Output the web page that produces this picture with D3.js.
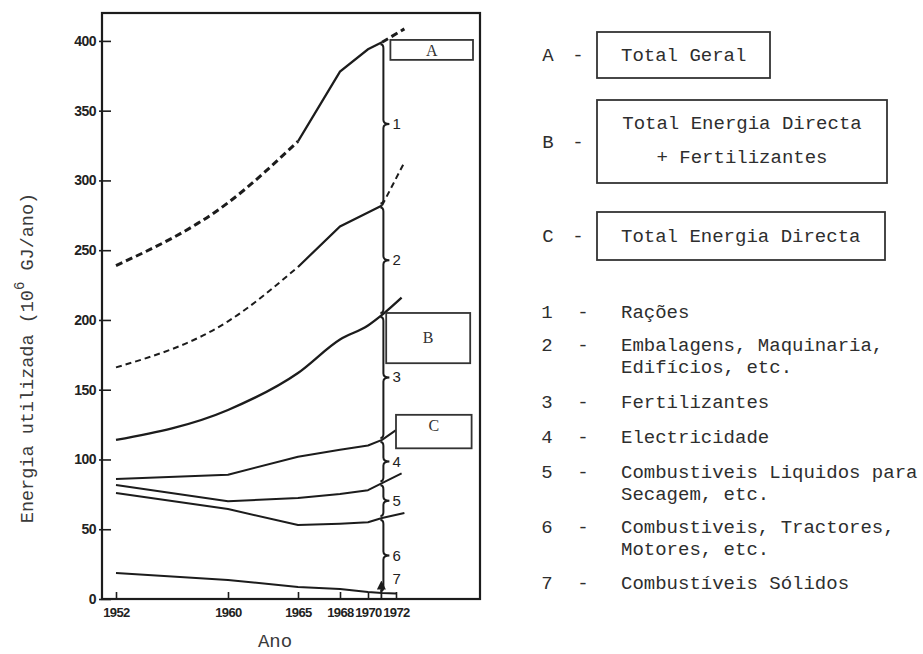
<!DOCTYPE html>
<html>
<head>
<meta charset="utf-8">
<script src="https://cdn.jsdelivr.net/npm/d3@7"></script>
<style>
  body { margin: 0; background: #fff; }
  svg { display: block; }
</style>
</head>
<body>
<svg width="923" height="654"></svg>
<script>
// years where the curves are read, and the tick labels
const years = [1952, 1960, 1965, 1968, 1970, 1971];
const xTicks = [1952, 1960, 1965, 1968, 1970, 1972];
const yTicks = [0, 50, 100, 150, 200, 250, 300, 350, 400];

// upper edge of each band (10^6 GJ/ano), from top to bottom
const totalGeral = [239, 284, 328, 378, 394, 399];
const semRacoes = [166, 199, 238, 267, 277, 282];
const directaFert = [114, 135.5, 162, 186, 196, 203.6];
const directa = [86, 89, 102, 107, 110, 114];
const semElectr = [81.7, 70, 72.4, 75.3, 78, 83];
const semSecagem = [76, 64.5, 53, 54, 55, 58];
const solidos = [18.6, 13.6, 8.6, 7.2, 5, 4.3];

// short extension of each curve past the bracket
const extYears = [1972.6, 1972.6, 1972.4, 1972, 1972.4, 1972.6, 1972];
const extValues = [408.6, 313, 216, 121, 90, 61.6, 4];

// boxes A, B, C inside the plot (data units)
const boxLabels = ["A", "B", "C"];
const boxYears = [[1971.6, 1977.5], [1971.3, 1977.3], [1972, 1977.4]];
const boxValues = [[400.7, 386.4], [205, 169], [132, 108]];

const bandLabels = ["1", "2", "3", "4", "5", "6", "7"];

const legendBoxes = [
    { key: "A", lines: ["Total Geral"] },
    { key: "B", lines: ["Total Energia Directa", "+ Fertilizantes"] },
    { key: "C", lines: ["Total Energia Directa"] }
];
const legendItems = [
    ["1", "Rações"],
    ["2", "Embalagens, Maquinaria,", "Edifícios, etc."],
    ["3", "Fertilizantes"],
    ["4", "Electricidade"],
    ["5", "Combustiveis Liquidos para", "Secagem, etc."],
    ["6", "Combustiveis, Tractores,", "Motores, etc."],
    ["7", "Combustíveis Sólidos"]
];

const series = [totalGeral, semRacoes, directaFert, directa, semElectr, semSecagem, solidos];

const svg = d3.select("svg");
const ink = "#1c1c1c";
const mono = "'Liberation Mono', 'Courier New', monospace";
const sans = "'Liberation Sans', Arial, sans-serif";

const x = d3.scaleLinear().domain([1951, 1978]).range([102, 480]);
const y = d3.scaleLinear().domain([0, 420]).range([599, 13]);

// frame
svg.append("rect")
    .attr("x", x(1951)).attr("y", y(420))
    .attr("width", x(1978) - x(1951)).attr("height", y(0) - y(420))
    .attr("fill", "none").attr("stroke", ink).attr("stroke-width", 2.2);

// axes
const yAxis = svg.append("g")
    .attr("transform", "translate(" + x(1951) + ",0)")
    .call(d3.axisLeft(y).tickValues(yTicks).tickSizeInner(-9).tickSizeOuter(0).tickPadding(6));
yAxis.select(".domain").remove();
yAxis.selectAll(".tick line").attr("x1", -3).attr("stroke", ink).attr("stroke-width", 1.6);
yAxis.selectAll("text")
    .attr("font-family", sans).attr("font-weight", "bold")
    .attr("font-size", 14).attr("letter-spacing", -0.5).attr("fill", "#222");

const xAxis = svg.append("g")
    .attr("transform", "translate(0," + y(0) + ")")
    .call(d3.axisBottom(x).tickValues(xTicks).tickFormat(d3.format("d"))
        .tickSizeInner(-7).tickSizeOuter(0).tickPadding(9));
xAxis.select(".domain").remove();
xAxis.selectAll(".tick line").attr("stroke", ink).attr("stroke-width", 1.6);
xAxis.selectAll("text")
    .attr("font-family", sans).attr("font-weight", "bold")
    .attr("font-size", 13).attr("letter-spacing", -0.6).attr("fill", "#222");

// axis titles
svg.append("text")
    .attr("x", 275).attr("y", 647)
    .attr("text-anchor", "middle")
    .attr("font-family", mono).attr("font-size", 19)
    .attr("fill", "#3a3a3a")
    .text("Ano");

const yTitle = svg.append("text")
    .attr("transform", "translate(28,358) rotate(-90)")
    .attr("text-anchor", "middle").attr("dominant-baseline", "middle")
    .attr("font-family", mono).attr("font-size", 18.5)
    .attr("fill", "#3a3a3a");
yTitle.append("tspan").text("Energia utilizada (10");
yTitle.append("tspan").attr("dy", -8).attr("font-size", 14).text("6");
yTitle.append("tspan").attr("dy", 8).text(" GJ/ano)");

// curves
const smooth = d3.line()
    .x(d => x(d[0]))
    .y(d => y(d[1]))
    .curve(d3.curveMonotoneX);
const straight = d3.line()
    .x(d => x(d[0]))
    .y(d => y(d[1]));

series.forEach((vals, i) => {
    const pts = years.map((yr, j) => [yr, vals[j]]);
    const ext = [pts[pts.length - 1], [extYears[i], extValues[i]]];
    // the two top curves are dashed before 1965 and after 1971
    if (i < 2) {
        const dash = i === 0 ? "7,4" : "6,4";
        const w = i === 0 ? 3 : 2;
        svg.append("path").datum(pts.slice(0, 3)).attr("d", smooth)
            .attr("fill", "none").attr("stroke", ink).attr("stroke-width", w)
            .attr("stroke-dasharray", dash);
        svg.append("path").datum(pts.slice(2)).attr("d", straight)
            .attr("fill", "none").attr("stroke", ink).attr("stroke-width", 2.2);
        svg.append("path").datum(ext).attr("d", straight)
            .attr("fill", "none").attr("stroke", ink).attr("stroke-width", w)
            .attr("stroke-dasharray", dash);
    } else {
        svg.append("path").datum(pts.concat([ext[1]])).attr("d", i === 2 ? smooth : straight)
            .attr("fill", "none").attr("stroke", ink)
            .attr("stroke-width", i === 2 ? 2.3 : 2)
            .attr("stroke-linejoin", "round");
    }
});

// braces at 1971 between each curve
const xb = x(1971.1);
const edges = series.map(s => s[s.length - 1]).concat([0]);

function brace(bx, y1, y2) {
    const m = (y1 + y2) / 2, r = Math.min(4, (y2 - y1) / 4);
    return "M" + (bx - 3) + "," + y1 + " Q" + bx + "," + y1 + " " + bx + "," + (y1 + r) +
        " L" + bx + "," + (m - r) + " Q" + bx + "," + m + " " + (bx + 6) + "," + m +
        " Q" + bx + "," + m + " " + bx + "," + (m + r) +
        " L" + bx + "," + (y2 - r) + " Q" + bx + "," + y2 + " " + (bx - 3) + "," + y2;
}

for (let i = 0; i < 6; i++) {
    const y1 = y(edges[i]) + 2, y2 = y(edges[i + 1]) - 2;
    svg.append("path")
        .attr("d", brace(xb, y1, y2))
        .attr("fill", "none").attr("stroke", ink).attr("stroke-width", 2);
    svg.append("text")
        .attr("x", xb + 9).attr("y", (y1 + y2) / 2 + 5)
        .attr("font-family", sans)
        .attr("font-size", 15).attr("fill", "#222")
        .text(bandLabels[i]);
}

// band 7 is too thin for a brace: small arrow
svg.append("defs").append("marker")
    .attr("id", "arr").attr("viewBox", "0 0 10 10")
    .attr("refX", 5).attr("refY", 5)
    .attr("markerWidth", 5).attr("markerHeight", 5).attr("orient", "auto")
    .append("path").attr("d", "M0,0 L10,5 L0,10 z").attr("fill", ink);
svg.append("line")
    .attr("x1", xb - 2).attr("y1", y(0))
    .attr("x2", xb - 2).attr("y2", y(edges[6]) - 8)
    .attr("stroke", ink).attr("stroke-width", 1.8)
    .attr("marker-end", "url(#arr)");
svg.append("text")
    .attr("x", xb + 9).attr("y", y(edges[6]) - 9)
    .attr("font-family", sans)
    .attr("font-size", 15).attr("fill", "#222")
    .text(bandLabels[6]);

// boxes A, B, C in the plot
boxLabels.forEach((lab, i) => {
    const x0 = x(boxYears[i][0]), x1 = x(boxYears[i][1]);
    const y0 = y(boxValues[i][0]), y1 = y(boxValues[i][1]);
    svg.append("rect")
        .attr("x", x0).attr("y", y0).attr("width", x1 - x0).attr("height", y1 - y0)
        .attr("fill", "#fff").attr("stroke", "#333").attr("stroke-width", 1.8);
    svg.append("text")
        .attr("x", (x0 + x1) / 2).attr("y", i === 1 ? y0 + 30 : y0 + 16)
        .attr("text-anchor", "middle")
        .attr("font-family", "'Liberation Serif', 'Times New Roman', serif")
        .attr("font-size", 16).attr("fill", "#333")
        .text(lab);
});

// legend on the right
const lg = svg.append("g")
    .attr("font-family", mono).attr("font-size", 19)
    .attr("fill", "#2e2e2e");

const boxRows = [[32, 78], [100, 183], [212, 260]];
const boxRight = [770, 887, 885];
legendBoxes.forEach((b, i) => {
    const top = boxRows[i][0], bot = boxRows[i][1], mid = (top + bot) / 2;
    lg.append("text").attr("x", 548).attr("y", mid + 6).attr("text-anchor", "middle").text(b.key);
    lg.append("text").attr("x", 578).attr("y", mid + 6).attr("text-anchor", "middle").text("-");
    lg.append("rect")
        .attr("x", 597).attr("y", top).attr("width", boxRight[i] - 597).attr("height", bot - top)
        .attr("fill", "none").attr("stroke", "#333").attr("stroke-width", 1.8);
    if (b.lines.length === 1) {
        lg.append("text").attr("x", 621).attr("y", mid + 6).text(b.lines[0]);
    } else {
        b.lines.forEach((t, k) => {
            lg.append("text").attr("x", (597 + boxRight[i]) / 2).attr("y", top + 29 + k * 34)
                .attr("text-anchor", "middle").text(t);
        });
    }
});

const rowY = [312, 345, 402, 437, 472, 527, 583];
legendItems.forEach((item, i) => {
    const yy = rowY[i] + 6;
    lg.append("text").attr("x", 547).attr("y", yy).attr("text-anchor", "middle").text(item[0]);
    lg.append("text").attr("x", 583).attr("y", yy).attr("text-anchor", "middle").text("-");
    item.slice(1).forEach((t, k) => {
        lg.append("text").attr("x", 621).attr("y", yy + k * 22).text(t);
    });
});
</script>
</body>
</html>
